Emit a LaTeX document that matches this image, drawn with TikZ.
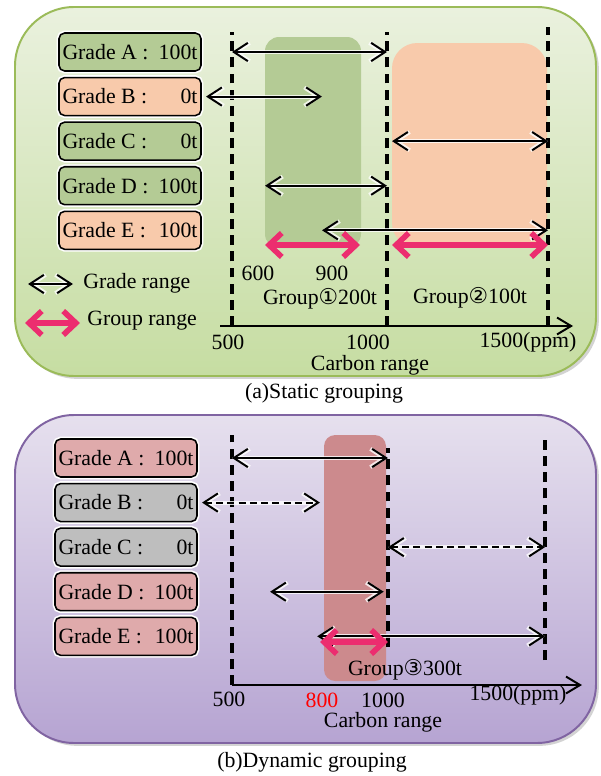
\documentclass[tikz,border=0pt]{standalone}
\usepackage{fontspec}
\setmainfont{Liberation Serif}
\newfontfamily\circfont{DejaVu Sans}
\usepackage{tikz}
\usetikzlibrary{arrows.meta, positioning, shadows}

\definecolor{greenTop}{HTML}{EAF1DE}
\definecolor{greenBot}{HTML}{C6DDA2}
\definecolor{greenEdge}{HTML}{9BBB59}
\definecolor{greenBox}{HTML}{B4CB95}
\definecolor{peachBox}{HTML}{F8CAAB}
\definecolor{lilacTop}{HTML}{E6E0EE}
\definecolor{lilacBot}{HTML}{B6A4D2}
\definecolor{lilacEdge}{HTML}{8064A2}
\definecolor{roseBox}{HTML}{DFAAAB}
\definecolor{greyBox}{HTML}{BEBEBE}
\definecolor{roseBand}{HTML}{CC8A8D}
\definecolor{groupPink}{HTML}{EC2D6F}

\newcommand{\gradetext}[2]{\makebox[96pt][l]{Grade #1 :\hfill #2}}

\tikzset{
    node distance = 3.6pt, font=\fontsize{15.5}{17}\selectfont,% gap between the stacked grade boxes
    panel/.style = {draw, line width=1.4pt, rounded corners=42pt, drop shadow={opacity=0.35, shadow xshift=2pt, shadow yshift=-2pt}},
    gradebox/.style = {draw, line width=1.1pt, rounded corners=4pt, minimum height=27pt, inner xsep=2.5pt, inner ysep=0pt,
        preaction={draw=white, line width=3.4pt}},
    limit/.style = {line width=2.6pt, dash pattern=on 7pt off 4.5pt},
    graderange/.style = {{Straight Barb[length=10pt, width=13pt]}-{Straight Barb[length=10pt, width=13pt]}, line width=1.4pt,
        preaction={draw=white, line width=2.8pt, opacity=0.8}},
    guess/.style = {graderange, dash pattern=on 5pt off 3pt},
    grouprange/.style = {{Straight Barb[length=9pt, width=17pt]}-{Straight Barb[length=9pt, width=17pt]}, line width=4pt, draw=groupPink},
    axis/.style = {-{Straight Barb[length=10pt, width=12pt]}, line width=1.4pt},
    lbl/.style = {inner sep=0pt}
}

\begin{document}
\begin{tikzpicture}[x=0.025cm, y=-0.025cm]
    \useasboundingbox (0,0) rectangle (600,776);

    % ---------- (a) static grouping ----------
    \draw[panel, draw=greenEdge, top color=greenTop, bottom color=greenBot] (15,7) rectangle (596,376);
    \fill[greenBox, rounded corners=10pt] (265,37) rectangle (361,248); % group 1 band
    \fill[peachBox, rounded corners=18pt] (392,43) rectangle (547,248); % group 2 band

    \node[gradebox, fill=greenBox] (tA) at (130,52) {\gradetext{A}{100t}};
    \node[gradebox, fill=peachBox] (tB) [below =of tA] {\gradetext{B}{0t}};
    \node[gradebox, fill=greenBox] (tC) [below =of tB] {\gradetext{C}{0t}};
    \node[gradebox, fill=greenBox] (tD) [below =of tC] {\gradetext{D}{100t}};
    \node[gradebox, fill=peachBox] (tE) [below =of tD] {\gradetext{E}{100t}};

    % carbon ticks on the axis
    \coordinate (tstart) at (220,326);
    \coordinate (t500) at (232,326);
    \coordinate (t600) at (265,326);
    \coordinate (t800) at (322,326);
    \coordinate (t900) at (360,326);
    \coordinate (t1000) at (387,326);
    \coordinate (t1050) at (392,326);
    \coordinate (t1500) at (548,326);
    \coordinate (tend) at (573,326);
    \coordinate (tgrp) at (0,245);

    \draw[limit] (t500) -- ++(0,-294);
    \draw[limit] (t1000) -- ++(0,-294);
    \draw[limit] (t1500) -- ++(0,-299);
    \draw[axis] (tstart) -- (tend);

    \draw[graderange] (t500 |- tA) -- (t1000 |- tA);
    \draw[graderange] ([xshift=3pt]tB.east) -- (t800 |- tB);
    \draw[graderange] (t1050 |- tC) -- (t1500 |- tC);
    \draw[graderange] (t600 |- tD) -- (t1000 |- tD);
    \draw[graderange] (t800 |- tE) -- (t1500 |- tE);
    \draw[grouprange] (t600 |- tgrp) -- (t900 |- tgrp);
    \draw[grouprange] (t1050 |- tgrp) -- (t1500 |- tgrp);

    \node[lbl] (l600) at (258,273) {600};
    \node[lbl] (l900) at (332,273) {900};
    \node[lbl] (g1) at (320,299) {Group{\circfont ①}200t};
    \node[lbl] (g2) at (470,298) {Group{\circfont ②}100t};
    \node[lbl] (l500) at (228,342) {500};
    \node[lbl] (l1000) at (368,342) {1000};
    \node[lbl] (l1500) at (528,342) {1500(ppm)};
    \node[lbl] (tname) at (370,365) {Carbon range};

    % legend
    \node[lbl, anchor=west] (legG) at (83,283) {Grade range};
    \node[lbl, anchor=west] (legP) at (87,321) {Group range};
    \coordinate (legG1) at (28,284);
    \coordinate (legG2) at (73,284);
    \coordinate (legP1) at (25,323);
    \coordinate (legP2) at (80,323);
    \draw[graderange] (legG1) -- (legG2);
    \draw[grouprange] (legP1) -- (legP2);

    \node[lbl] (capA) at (324,393) {(a)Static grouping};

    % ---------- (b) dynamic grouping ----------
    \draw[panel, draw=lilacEdge, top color=lilacTop, bottom color=lilacBot] (15,415) rectangle (596,743);
    \fill[roseBand, rounded corners=8pt] (324,435) rectangle (386,681); % group 3 band

    \node[gradebox, fill=roseBox] (bA) at (126,458) {\gradetext{A}{100t}};
    \node[gradebox, fill=greyBox] (bB) [below =of bA] {\gradetext{B}{0t}};
    \node[gradebox, fill=greyBox] (bC) [below =of bB] {\gradetext{C}{0t}};
    \node[gradebox, fill=roseBox] (bD) [below =of bC] {\gradetext{D}{100t}};
    \node[gradebox, fill=roseBox] (bE) [below =of bD] {\gradetext{E}{100t}};

    \coordinate (b500) at (232,685);
    \coordinate (b600) at (270,685);
    \coordinate (b800) at (320,685);
    \coordinate (b1000) at (388,685);
    \coordinate (b1500) at (545,685);
    \coordinate (bend) at (582,685);
    \coordinate (bgrp) at (0,642);

    \draw[limit] (b500) -- ++(0,-250);
    \draw[limit] (388,647) -- (388,448);
    \draw[limit] (545,660) -- (545,440);
    \draw[axis] (b500) -- (bend);

    \draw[graderange] (b500 |- bA) -- (b1000 |- bA);
    \draw[guess] ([xshift=3pt]bB.east) -- (b800 |- bB);
    \draw[guess] (b1000 |- bC) -- (b1500 |- bC);
    \draw[graderange] (b600 |- bD) -- ([xshift=-3pt]b1000 |- bD);
    \draw[graderange] ([xshift=-2pt]b800 |- bE) -- (b1500 |- bE);
    \draw[grouprange] (b800 |- bgrp) -- (b1000 |- bgrp);

    \node[lbl] (g3) at (405,670) {Group{\circfont ③}300t};
    \node[lbl] (m500) at (229,699) {500};
    \node[lbl, text=red] (m800) at (322,700) {800};
    \node[lbl] (m1000) at (383,700) {1000};
    \node[lbl] (m1500) at (518,695) {1500(ppm)};
    \node[lbl] (bname) at (383,722) {Carbon range};

    \node[lbl] (capB) at (312,762) {(b)Dynamic grouping};
\end{tikzpicture}
\end{document}
